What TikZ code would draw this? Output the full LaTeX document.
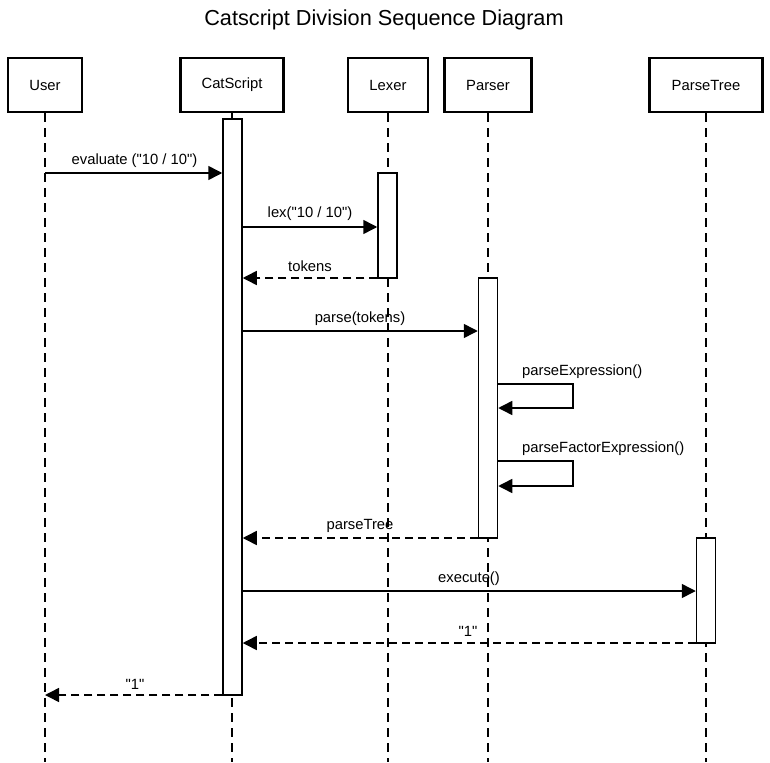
\documentclass[tikz,border=0pt]{standalone}
\usepackage{fontspec}
\newfontfamily\lsans{Liberation Sans}
\usetikzlibrary{arrows.meta}
\begin{document}
\begin{tikzpicture}[x=1pt,y=-1pt,
  head/.style={draw,line width=2.6pt,minimum width=#1,minimum height=54pt,inner sep=0pt,font=\lsans\fontsize{14.8}{17}\selectfont},
  act/.style={draw,line width=1.5pt,fill=white,minimum width=19pt,minimum height=#1,inner sep=0pt},
  life/.style={line width=1.5pt,dash pattern=on 9pt off 6pt},
  msg/.style={line width=1.5pt,-{Triangle[length=14pt,width=14pt]}},
  ret/.style={msg,dash pattern=on 8pt off 5pt},
  lbl/.style={font=\lsans\fontsize{14.8}{17}\selectfont,inner sep=0pt}]
\useasboundingbox (0,0) rectangle (770,762);
\node[font=\lsans\fontsize{21.7}{26}\selectfont] (title) at (384,20) {Catscript Division Sequence Diagram};
% heads
\node[head=74pt] (user) at (45,85) {User};
\node[head=103pt] (cs) at (232,85) {CatScript};
\node[head=80pt] (lex) at (388,85) {Lexer};
\node[head=87pt] (par) at (488,85) {Parser};
\node[head=113pt] (pt) at (706,85) {ParseTree};
% lifeline ends
\coordinate (userE) at (45,762);
\coordinate (csE) at (232,762);
\coordinate (lexE) at (388,762);
\coordinate (parE) at (488,762);
\coordinate (ptE) at (706,762);
\draw[life] (user.south) -- (userE);
\draw[life] (cs.south) -- (csE);
\draw[life] (lex.south) -- (lexE);
\draw[life] (par.south) -- (parE);
\draw[life] (pt.south) -- (ptE);
% activation bars
\node[act=576pt] (csbar) at (232.5,407) {};
\node[act=105pt] (lexbar) at (387.5,225.5) {};
\node[act=260pt] (parbar) at (488,408) {};
\node[act=105pt] (ptbar) at (706,590.5) {};
% message anchors
\coordinate (m1) at (45,173);
\coordinate (m2) at (0,227);
\coordinate (m3) at (0,278);
\coordinate (m4) at (0,331);
\coordinate (s1a) at (573,384);
\coordinate (s1b) at (573,408);
\coordinate (s2a) at (573,461);
\coordinate (s2b) at (573,486);
\coordinate (m5) at (0,538);
\coordinate (m6) at (0,591);
\coordinate (m7) at (0,643);
\coordinate (m8) at (45,695);
% messages
\draw[msg] (m1) -- (csbar.west |- m1);
\draw[msg] (csbar.east |- m2) -- (lexbar.west |- m2);
\draw[ret] (lexbar.west |- m3) -- (csbar.east |- m3);
\draw[msg] (csbar.east |- m4) -- (parbar.west |- m4);
\draw[msg] (parbar.east |- s1a) -- (s1a) -- (s1b) -- (parbar.east |- s1b);
\draw[msg] (parbar.east |- s2a) -- (s2a) -- (s2b) -- (parbar.east |- s2b);
\draw[ret] (parbar.west |- m5) -- (csbar.east |- m5);
\draw[msg] (csbar.east |- m6) -- (ptbar.west |- m6);
\draw[ret] (ptbar.west |- m7) -- (csbar.east |- m7);
\draw[ret] (csbar.west |- m8) -- (m8);
% labels
\node[lbl] (l1) at (134.5,161) {evaluate ("10 / 10")};
\node[lbl] (l2) at (310,214) {lex("10 / 10")};
\node[lbl] (l3) at (310,266) {tokens};
\node[lbl] (l4) at (360,319) {parse(tokens)};
\node[lbl,anchor=west] (l5) at (522,372) {parseExpression()};
\node[lbl,anchor=west] (l6) at (522,449) {parseFactorExpression()};
\node[lbl] (l7) at (360,526) {parseTree};
\node[lbl] (l8) at (469,579) {execute()};
\node[lbl] (l9) at (468,631) {"1"};
\node[lbl] (l10) at (135,684) {"1"};
\end{tikzpicture}
\end{document}
